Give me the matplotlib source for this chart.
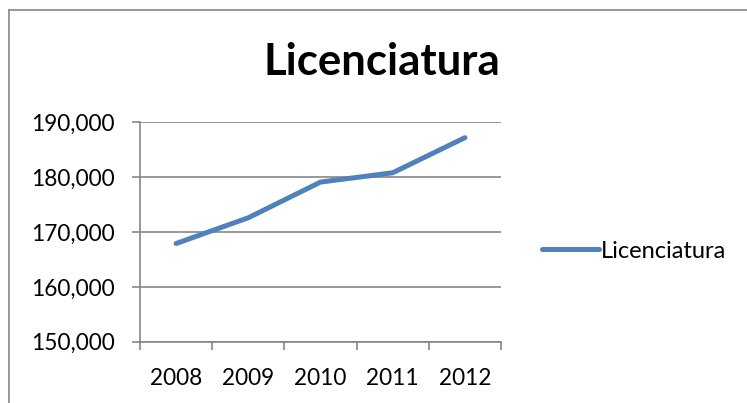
import matplotlib.pyplot as plt
from matplotlib.lines import Line2D

# Data
years = ['2008', '2009', '2010', '2011', '2012']
licenciatura = [167900, 172600, 179100, 180800, 187200]
y_ticks = [150000, 160000, 170000, 180000, 190000]

plt.rcParams['font.family'] = ['Lato', 'DejaVu Sans']

fig = plt.figure(figsize=(7.47, 4.03), dpi=100)
ax = fig.add_axes([0.1874, 0.1521, 0.4833, 0.5444])

x = list(range(len(years)))
line, = ax.plot(x, licenciatura, color='#4F81BD', linewidth=3.6,
                solid_capstyle='round', solid_joinstyle='round',
                label='Licenciatura')

grid_col = '#868686'
ax.set_ylim(150000, 190000)
ax.set_yticks(y_ticks)
ax.set_yticklabels([f'{v:,}' for v in y_ticks])
ax.set_xlim(-0.5, len(years) - 0.5)
ax.set_xticks(x)
ax.set_xticklabels(years)
ax.set_xticks([i - 0.5 for i in range(len(years) + 1)], minor=True)

ax.yaxis.grid(True, color=grid_col, linewidth=1.2)
ax.set_axisbelow(True)
for s in ['top', 'right']:
    ax.spines[s].set_visible(False)
for s in ['left', 'bottom']:
    ax.spines[s].set_color(grid_col)
    ax.spines[s].set_linewidth(1.2)

ax.tick_params(axis='y', length=6, width=1.2, color=grid_col, pad=12,
               labelsize=16.3)
ax.tick_params(axis='x', which='major', length=0, pad=19, labelsize=16.3)
ax.tick_params(axis='x', which='minor', length=6, width=1.2, color=grid_col)

fig.text(382 / 747, 1 - 62 / 403, 'Licenciatura', fontsize=31.5,
         fontweight='bold', ha='center', va='center')

fig.legend(handles=[line], loc='center left',
           bbox_to_anchor=(521 / 747, 1 - 251 / 403), frameon=False,
           fontsize=17, handlelength=2.4, handletextpad=0.1)

# chart area border (cropped on right and bottom)
fig.add_artist(Line2D([9 / 747, 9 / 747], [0, 1 - 10 / 403],
                      transform=fig.transFigure, color=grid_col, linewidth=1.2))
fig.add_artist(Line2D([9 / 747, 1], [1 - 10 / 403, 1 - 10 / 403],
                      transform=fig.transFigure, color=grid_col, linewidth=1.2))

fig.savefig('out.png', dpi=100)
